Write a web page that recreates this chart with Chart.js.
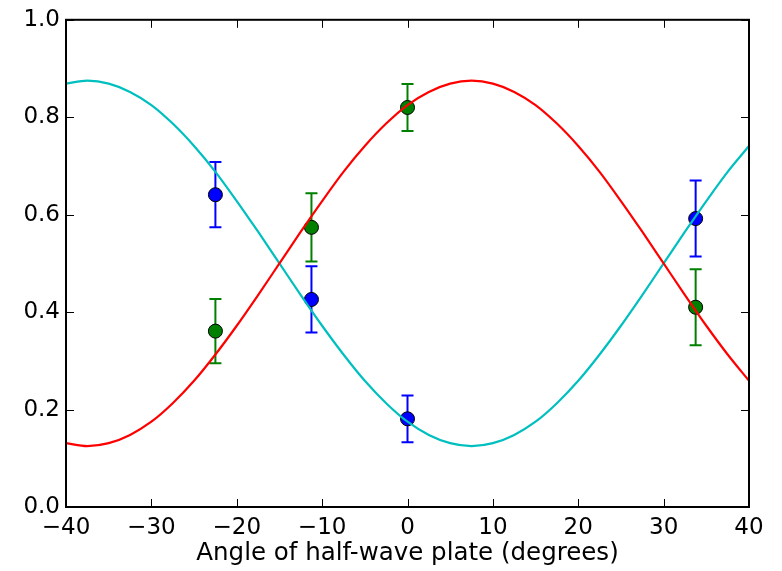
<!DOCTYPE html>
<html>
<head>
<meta charset="utf-8">
<script src="https://cdn.jsdelivr.net/npm/chart.js@4/dist/chart.umd.min.js"></script>
<style>
  html, body { margin: 0; padding: 0; background: #fff; }
</style>
</head>
<body>
<canvas id="grafico" width="782" height="571"></canvas>
<script>
// fitted curves, every 2.5 degrees
const angles = [-40, -37.5, -35, -32.5, -30, -27.5, -25, -22.5, -20, -17.5, -15, -12.5, -10, -7.5, -5, -2.5,
    0, 2.5, 5, 7.5, 10, 12.5, 15, 17.5, 20, 22.5, 25, 27.5, 30, 32.5, 35, 37.5, 40];
const redFit = [0.131, 0.125, 0.131, 0.148, 0.175, 0.213, 0.259, 0.313, 0.372, 0.435, 0.5, 0.565, 0.628, 0.688, 0.741, 0.787,
    0.825, 0.852, 0.869, 0.875, 0.869, 0.852, 0.825, 0.787, 0.741, 0.688, 0.628, 0.565, 0.5, 0.435, 0.372, 0.313, 0.259];
const cyanFit = [0.869, 0.875, 0.869, 0.852, 0.825, 0.787, 0.741, 0.688, 0.628, 0.565, 0.5, 0.435, 0.372, 0.313, 0.259, 0.213,
    0.175, 0.148, 0.131, 0.125, 0.131, 0.148, 0.175, 0.213, 0.259, 0.313, 0.372, 0.435, 0.5, 0.565, 0.628, 0.688, 0.741];

// measured points
const pointAngles = [-22.5, -11.25, 0, 33.75];
const blueVals = [0.641, 0.426, 0.181, 0.592];
const blueErr = [0.067, 0.068, 0.048, 0.078];
const greenVals = [0.361, 0.574, 0.82, 0.41];
const greenErr = [0.066, 0.07, 0.048, 0.078];

const xTicks = [-40, -30, -20, -10, 0, 10, 20, 30, 40];
const yTicks = [0, 0.2, 0.4, 0.6, 0.8, 1.0];

function toXY(xs, ys) {
    return xs.map(function (x, i) { return { x: x, y: ys[i] }; });
}

// error bars under the markers
const errorBars = {
    id: 'errorBars',
    beforeDatasetsDraw: function (chart) {
        const ctx = chart.ctx;
        const xs = chart.scales.x, ys = chart.scales.y;
        const sets = [[blueVals, blueErr, '#0000ff'], [greenVals, greenErr, '#008000']];
        ctx.save();
        sets.forEach(function (s) {
            ctx.strokeStyle = s[2];
            ctx.lineWidth = 2;
            pointAngles.forEach(function (a, i) {
                const px = xs.getPixelForValue(a);
                const top = ys.getPixelForValue(s[0][i] + s[1][i]);
                const bot = ys.getPixelForValue(s[0][i] - s[1][i]);
                ctx.beginPath();
                ctx.moveTo(px, top); ctx.lineTo(px, bot);
                ctx.moveTo(px - 6, top); ctx.lineTo(px + 6, top);
                ctx.moveTo(px - 6, bot); ctx.lineTo(px + 6, bot);
                ctx.stroke();
            });
        });
        ctx.restore();
    }
};

// box frame and inward ticks on all four sides
const frame = {
    id: 'frame',
    afterDraw: function (chart) {
        const ctx = chart.ctx, a = chart.chartArea;
        const xs = chart.scales.x, ys = chart.scales.y;
        ctx.save();
        ctx.strokeStyle = '#000';
        ctx.lineWidth = 1;
        xTicks.forEach(function (t) {
            const px = Math.round(xs.getPixelForValue(t)) + 0.5;
            ctx.beginPath();
            ctx.moveTo(px, a.bottom); ctx.lineTo(px, a.bottom - 8);
            ctx.moveTo(px, a.top); ctx.lineTo(px, a.top + 8);
            ctx.stroke();
        });
        yTicks.forEach(function (t) {
            const py = Math.round(ys.getPixelForValue(t)) + 0.5;
            ctx.beginPath();
            ctx.moveTo(a.left, py); ctx.lineTo(a.left + 8, py);
            ctx.moveTo(a.right, py); ctx.lineTo(a.right - 8, py);
            ctx.stroke();
        });
        ctx.lineWidth = 2;
        ctx.strokeRect(a.left, a.top, a.right - a.left, a.bottom - a.top);
        ctx.restore();
    }
};

const ctx = document.getElementById('grafico').getContext('2d');
new Chart(ctx, {
    type: 'scatter',
    data: {
        datasets: [{
            data: toXY(angles, redFit),
            showLine: true,
            borderColor: '#ff0000',
            borderWidth: 2.2,
            pointRadius: 0,
            cubicInterpolationMode: 'monotone',
            order: 0
        }, {
            data: toXY(angles, cyanFit),
            showLine: true,
            borderColor: '#00bfbf',
            borderWidth: 2.2,
            pointRadius: 0,
            cubicInterpolationMode: 'monotone',
            order: 0
        }, {
            data: toXY(pointAngles, blueVals),
            backgroundColor: '#0000ff',
            borderColor: '#000',
            borderWidth: 1,
            pointRadius: 7,
            order: 1
        }, {
            data: toXY(pointAngles, greenVals),
            backgroundColor: '#008000',
            borderColor: '#000',
            borderWidth: 1,
            pointRadius: 7,
            order: 1
        }]
    },
    options: {
        responsive: false,
        animation: false,
        layout: { padding: { left: 0, right: 33, top: 19, bottom: 0 } },
        plugins: {
            legend: { display: false },
            tooltip: { enabled: false }
        },
        scales: {
            x: {
                type: 'linear',
                min: -40,
                max: 40,
                afterFit: function (s) { s.height = 64; },
                afterBuildTicks: function (s) { s.ticks = xTicks.map(function (v) { return { value: v }; }); },
                grid: { display: false, drawTicks: false },
                border: { display: false },
                ticks: {
                    padding: 7,
                    color: '#000',
                    font: { family: 'DejaVu Sans', size: 23 },
                    maxRotation: 0,
                    callback: function (v) { return String(v).replace('-', '\u2212'); }
                },
                title: {
                    display: true,
                    text: 'Angle of half-wave plate (degrees)',
                    color: '#000',
                    font: { family: 'DejaVu Sans', size: 24.5 },
                    padding: { top: 0, bottom: 3 }
                }
            },
            y: {
                min: 0,
                max: 1,
                afterFit: function (s) { s.width = 66; },
                afterBuildTicks: function (s) { s.ticks = yTicks.map(function (v) { return { value: v }; }); },
                grid: { display: false, drawTicks: false },
                border: { display: false },
                ticks: {
                    padding: 6,
                    color: '#000',
                    font: { family: 'DejaVu Sans', size: 23 },
                    callback: function (v) { return v.toFixed(1); }
                }
            }
        }
    },
    plugins: [errorBars, frame]
});
</script>
</body>
</html>
